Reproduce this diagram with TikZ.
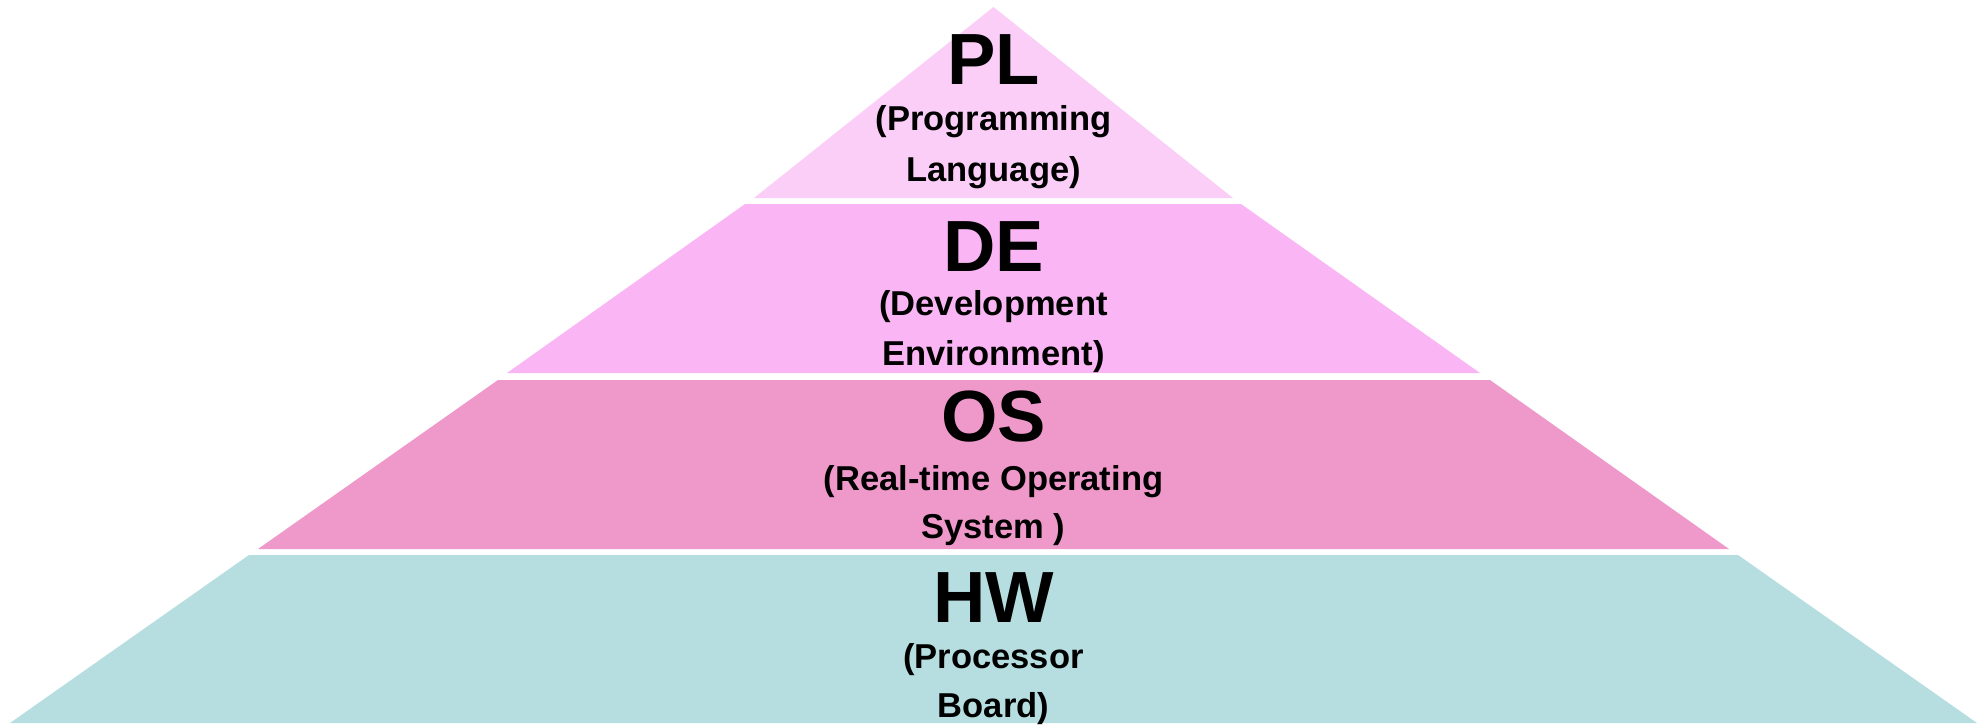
\documentclass[tikz,border=0pt]{standalone}
\usepackage{fontspec}
\setmainfont{Liberation Sans}

\definecolor{plpink}{RGB}{251,206,248}
\definecolor{depink}{RGB}{250,182,244}
\definecolor{ospink}{RGB}{239,153,203}
\definecolor{hwblue}{RGB}{182,222,224}

\tikzset{every picture/.style={line width=0.75pt}}
\tikzset{
  layertitle/.style={font=\fontsize{54.4}{60}\selectfont\bfseries, inner sep=0pt, anchor=base},
  layernote/.style={font=\fontsize{25.9}{31}\selectfont\bfseries, inner sep=0pt, anchor=base}
}

\begin{document}
\begin{tikzpicture}[x=0.75pt,y=0.75pt,yscale=-1,xscale=1]
\useasboundingbox (0,0) rectangle (1986,725);

%Triangle PL
\fill [plpink] (993.5,7) -- (1233,198) -- (754,198) -- cycle ;
%Trapezoid DE
\fill [depink] (745,204) -- (1241,204) -- (1480,373) -- (507,373) -- cycle ;
%Trapezoid OS
\fill [ospink] (498,380) -- (1490,380) -- (1729,549) -- (258,549) -- cycle ;
%Trapezoid HW
\fill [hwblue] (249,555) -- (1738,555) -- (1977,723) -- (10,723) -- cycle ;

% Text Node
\draw (993.5,84) node (pl) [layertitle] {PL};
\draw (993.5,130) node (plA) [layernote] {(Programming};
\draw (993.5,181) node (plB) [layernote] {Language)};
% Text Node
\draw (993.5,271) node (de) [layertitle] {DE};
\draw (993.5,315) node (deA) [layernote] {(Development};
\draw (993.5,365) node (deB) [layernote] {Environment)};
% Text Node
\draw (993.5,441) node (os) [layertitle] {OS};
\draw (993.5,490) node (osA) [layernote] {(Real-time Operating};
\draw (993.5,538) node (osB) [layernote] {System )};
% Text Node
\draw (993.5,622) node (hw) [layertitle] {HW};
\draw (993.5,668) node (hwA) [layernote] {(Processor};
\draw (993.5,717) node (hwB) [layernote] {Board)};

\end{tikzpicture}
\end{document}
